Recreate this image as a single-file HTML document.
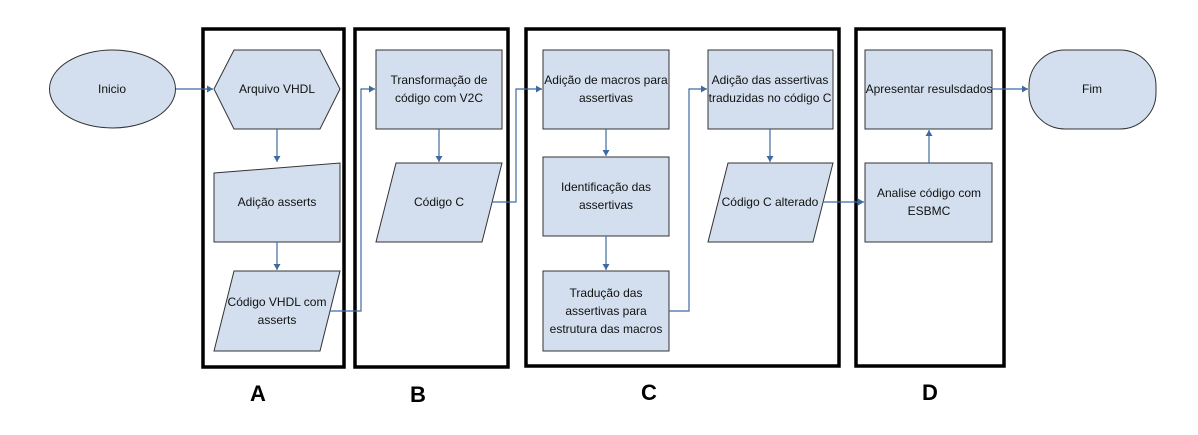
<!DOCTYPE html>
<html><head><meta charset="utf-8"><style>
body{margin:0;background:#fff}
svg text{font-family:"Liberation Sans",sans-serif;font-size:12px;fill:#111;text-anchor:middle}
</style></head><body>
<svg width="1198" height="430" viewBox="0 0 1198 430" xmlns="http://www.w3.org/2000/svg">
<defs><marker id="a" markerWidth="8" markerHeight="8" refX="6" refY="4" orient="auto" markerUnits="userSpaceOnUse"><path d="M0,0.5 L6,4 L0,7.5 Z" fill="#3f6aa0"/></marker></defs>
<g fill="none" stroke="#000" stroke-width="3.5">
<rect x="203" y="29" width="141" height="338"/>
<rect x="355" y="29" width="153" height="338"/>
<rect x="526" y="29" width="313" height="337"/>
<rect x="856" y="29" width="148" height="337"/>
</g>
<g fill="#d3dfee" stroke="#333" stroke-width="1">
<ellipse cx="112.5" cy="89" rx="63" ry="39"/>
<polygon points="214,89 234,50 320,50 340,89 320,129 234,129"/>
<polygon points="214,173 340,163 340,242 214,242"/>
<polygon points="234,271 340,271 320,351 214,351"/>
<rect x="376" y="50" width="126" height="79"/>
<polygon points="396,163 502,163 482,242 376,242"/>
<rect x="543" y="50" width="126" height="79"/>
<rect x="543" y="157" width="126" height="79"/>
<rect x="543" y="271" width="126" height="80"/>
<rect x="708" y="50" width="125" height="79"/>
<polygon points="728,163 833,163 813,242 708,242"/>
<rect x="865" y="50" width="127" height="79"/>
<rect x="865" y="163" width="127" height="79"/>
<rect x="1029" y="50" width="127" height="79" rx="36" ry="36"/>
</g>
<g fill="none" stroke="#3f6aa0" stroke-width="1.2" marker-end="url(#a)">
<path d="M176,89 H213"/>
<path d="M277,129 V162"/>
<path d="M277,242 V270"/>
<path d="M330,311 H361 V89 H375"/>
<path d="M439,129 V162"/>
<path d="M492,202 H516 V89 H542"/>
<path d="M606,129 V156"/>
<path d="M606,236 V270"/>
<path d="M669,311 H689 V89 H707"/>
<path d="M770,129 V162"/>
<path d="M823,202 H864"/>
<path d="M929,163 V130"/>
<path d="M992,89 H1028"/>
</g>
<text x="112" y="93">Inicio</text>
<text x="277" y="93">Arquivo VHDL</text>
<text x="277" y="206">Adição asserts</text>
<text x="277" y="306">Código VHDL com</text>
<text x="277" y="324">asserts</text>
<text x="439" y="84">Transformação de</text>
<text x="439" y="102">código com V2C</text>
<text x="439" y="206">Código C</text>
<text x="606" y="84">Adição de macros para</text>
<text x="606" y="102">assertivas</text>
<text x="606" y="191">Identificação das</text>
<text x="606" y="209">assertivas</text>
<text x="606" y="297">Tradução das</text>
<text x="606" y="315">assertivas para</text>
<text x="606" y="333">estrutura das macros</text>
<text x="770" y="84">Adição das assertivas</text>
<text x="770" y="102">traduzidas no código C</text>
<text x="770" y="206">Código C alterado</text>
<text x="929" y="93">Apresentar resulsdados</text>
<text x="929" y="197">Analise código com</text>
<text x="929" y="215">ESBMC</text>
<text x="1092" y="93">Fim</text>
<g style="font-size:22px;font-weight:bold">
<text x="258" y="401" style="font-size:22px;font-weight:bold;fill:#000">A</text>
<text x="418" y="402" style="font-size:22px;font-weight:bold;fill:#000">B</text>
<text x="649" y="400" style="font-size:22px;font-weight:bold;fill:#000">C</text>
<text x="930" y="400" style="font-size:22px;font-weight:bold;fill:#000">D</text>
</g>
</svg>
</body></html>
